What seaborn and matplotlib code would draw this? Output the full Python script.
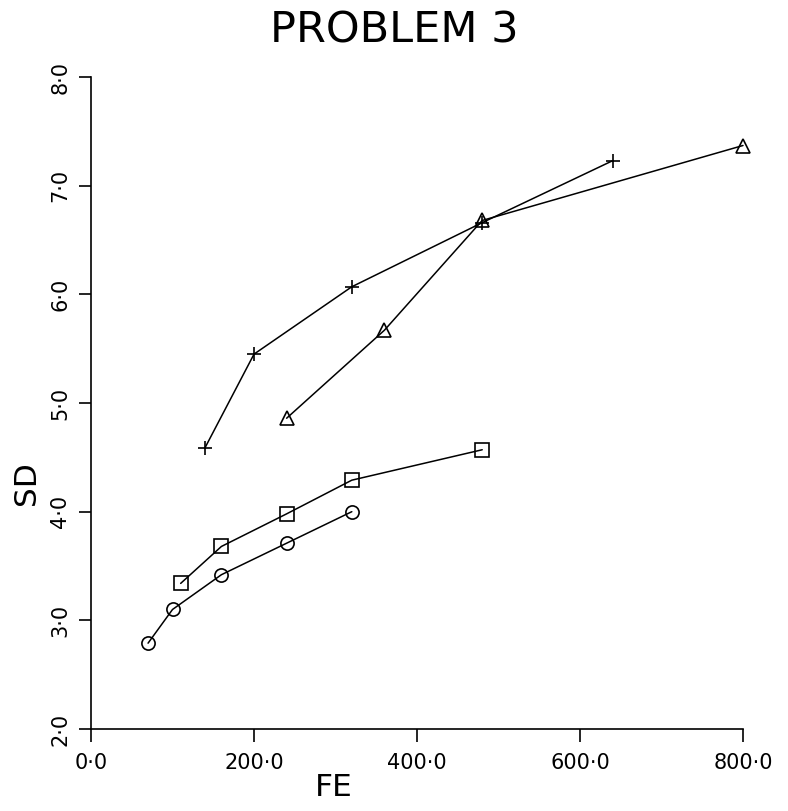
import pandas as pd
import matplotlib
matplotlib.use("Agg")
import matplotlib.pyplot as plt
import seaborn as sns

# data
circle_fe = [70, 100, 160, 240, 320]
circle_sd = [2.79, 3.10, 3.42, 3.71, 4.00]

square_fe = [110, 160, 240, 320, 480]
square_sd = [3.34, 3.68, 3.98, 4.29, 4.57]

plus_fe = [140, 200, 320, 480, 640]
plus_sd = [4.59, 5.45, 6.07, 6.66, 7.23]

tri_fe = [240, 360, 480, 800]
tri_sd = [4.86, 5.67, 6.68, 7.37]

x_ticks = [0, 200, 400, 600, 800]
x_labels = ["0·0", "200·0", "400·0", "600·0", "800·0"]
y_ticks = [2, 3, 4, 5, 6, 7, 8]
y_labels = ["2·0", "3·0", "4·0", "5·0", "6·0", "7·0", "8·0"]

series = [("o", circle_fe, circle_sd),
          ("s", square_fe, square_sd),
          ("+", plus_fe, plus_sd),
          ("^", tri_fe, tri_sd)]

sns.set_style("ticks")
plt.rcParams["font.family"] = ["DejaVu Sans"]
plt.rcParams["text.color"] = "black"
plt.rcParams["axes.labelcolor"] = "black"
plt.rcParams["xtick.color"] = "black"
plt.rcParams["ytick.color"] = "black"

fig = plt.figure(figsize=(7.88, 8.11), dpi=100)
ax = fig.add_axes([0.1155, 0.1011, 0.8274, 0.8039])

# one lineplot per marker type (seaborn won't mix filled and line markers)
for marker, fe, sd in series:
    df = pd.DataFrame({"FE": fe, "SD": sd})
    sns.lineplot(data=df, x="FE", y="SD", ax=ax, color="black",
                 marker=marker, markersize=9.5, markerfacecolor="none",
                 markeredgecolor="black", markeredgewidth=1.2, linewidth=1.1,
                 clip_on=False)

ax.set_xlim(0, 800)
ax.set_ylim(2, 8)
ax.set_xticks(x_ticks)
ax.set_xticklabels(x_labels, fontsize=15)
ax.set_yticks(y_ticks)
ax.set_yticklabels(y_labels, fontsize=15, rotation=90, va="center")
ax.tick_params(axis="x", length=9, width=1.2, pad=8)
ax.tick_params(axis="y", length=9, width=1.2, pad=6)
for s in ["top", "right"]:
    ax.spines[s].set_visible(False)
for s in ["left", "bottom"]:
    ax.spines[s].set_linewidth(1.2)
    ax.spines[s].set_color("black")

ax.set_xlabel("FE", fontsize=22.5)
ax.xaxis.set_label_coords(0.373, -0.089)
ax.xaxis.label.set_verticalalignment("center")
ax.set_ylabel("SD", fontsize=22.5)
ax.yaxis.set_label_coords(-0.0997, 0.377)
ax.yaxis.label.set_verticalalignment("center")

fig.text(0.501, 0.963, "PROBLEM 3", fontsize=31, ha="center", va="center")

fig.savefig("out.png", dpi=100)
